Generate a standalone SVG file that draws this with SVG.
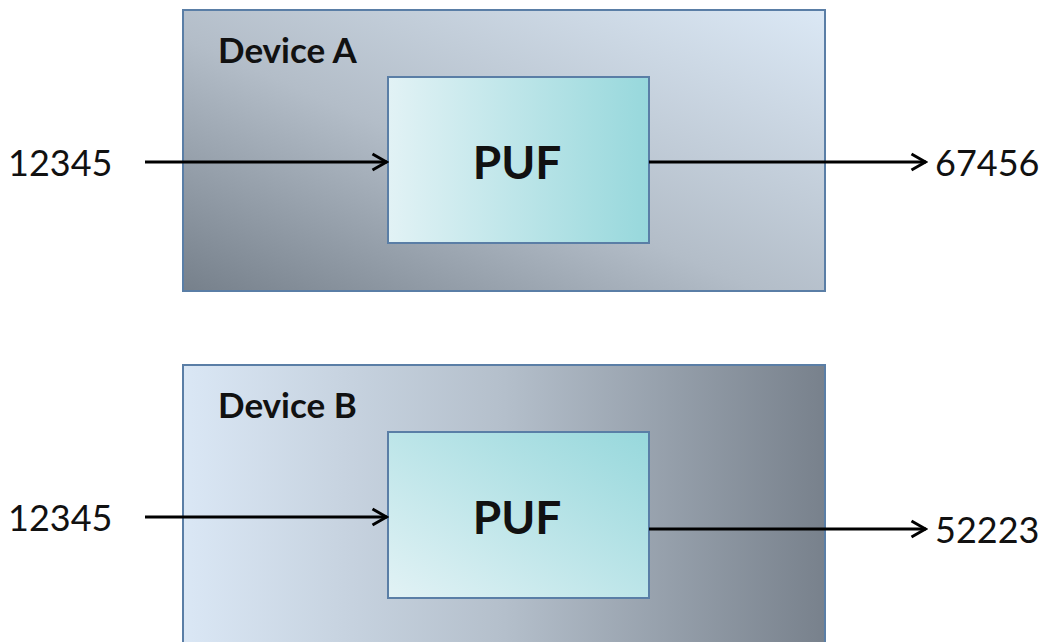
<svg xmlns="http://www.w3.org/2000/svg" width="1053" height="642" viewBox="0 0 1053 642">
  <style>
    .device { stroke: #5a7ea6; stroke-width: 2; }
    .puf { stroke: #5a7ea6; stroke-width: 2; }
    .dlabel { font-family: Lato, "Liberation Sans", sans-serif; font-weight: bold; font-size: 35px; fill: #111; }
    .plabel { font-family: Lato, "Liberation Sans", sans-serif; font-weight: bold; font-size: 46px; fill: #111; text-anchor: middle; }
    .num { font-family: Lato, "Liberation Sans", sans-serif; font-size: 36px; fill: #111; }
    .wire { stroke: #000; stroke-width: 3; fill: none; marker-end: url(#head); }
  </style>
  <defs>
    <linearGradient id="gradA" x1="0" y1="1" x2="1" y2="0">
      <stop offset="0" stop-color="#76808b"/>
      <stop offset="0.45" stop-color="#b3bdc8"/>
      <stop offset="1" stop-color="#dbe8f5"/>
    </linearGradient>
    <linearGradient id="gradB" x1="0" y1="0" x2="1" y2="0">
      <stop offset="0" stop-color="#dae7f5"/>
      <stop offset="0.5" stop-color="#b4bfcb"/>
      <stop offset="1" stop-color="#78818c"/>
    </linearGradient>
    <linearGradient id="gradPufA" x1="0" y1="0" x2="1" y2="0">
      <stop offset="0" stop-color="#e2f2f5"/>
      <stop offset="1" stop-color="#97d8dc"/>
    </linearGradient>
    <linearGradient id="gradPufB" x1="0" y1="1" x2="1" y2="0">
      <stop offset="0" stop-color="#e2f2f5"/>
      <stop offset="1" stop-color="#97d8dc"/>
    </linearGradient>
    <marker id="head" viewBox="0 0 18 20" markerWidth="18" markerHeight="20" refX="16.5" refY="10" orient="auto" markerUnits="userSpaceOnUse">
      <path d="M2 2 L16 10 L2 18" fill="none" stroke="#000" stroke-width="3"/>
    </marker>
  </defs>

  <g id="deviceA">
    <rect class="device" x="183" y="10" width="642" height="281" fill="url(#gradA)"/>
    <text class="dlabel" x="218" y="63">Device A</text>
  </g>
  <g id="pufA">
    <rect class="puf" x="388" y="77" width="261" height="166" fill="url(#gradPufA)"/>
    <text class="plabel" x="517" y="179">PUF</text>
  </g>

  <g id="deviceB">
    <rect class="device" x="183" y="365" width="642" height="290" fill="url(#gradB)"/>
    <text class="dlabel" x="218" y="418">Device B</text>
  </g>
  <g id="pufB">
    <rect class="puf" x="388" y="432" width="261" height="166" fill="url(#gradPufB)"/>
    <text class="plabel" x="517" y="534">PUF</text>
  </g>

  <g id="labels">
    <text class="num" x="8" y="176">12345</text>
    <text class="num" x="935" y="176">67456</text>
    <text class="num" x="8" y="531">12345</text>
    <text class="num" x="935" y="543">52223</text>
  </g>

  <g id="connectors">
    <line class="wire" x1="145" y1="162" x2="387" y2="162"/>
    <line class="wire" x1="649" y1="162" x2="926" y2="162"/>
    <line class="wire" x1="145" y1="517" x2="387" y2="517"/>
    <line class="wire" x1="649" y1="529" x2="926" y2="529"/>
  </g>
</svg>
